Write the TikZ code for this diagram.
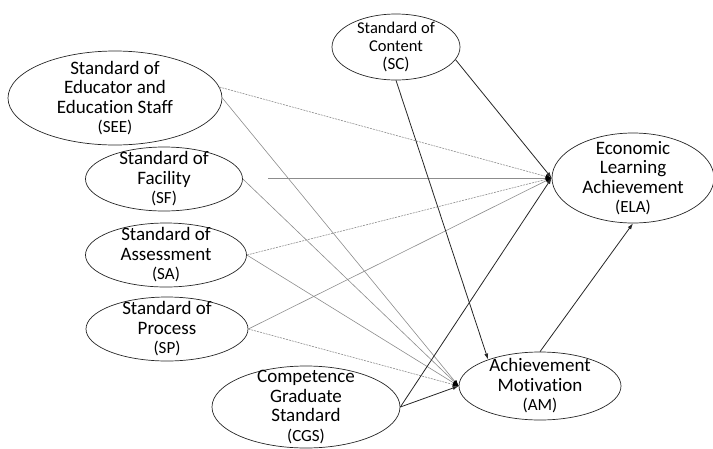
\documentclass[tikz,border=0pt]{standalone}
\usepackage{fontspec}
\setmainfont{Carlito}[Ligatures=NoCommon]
\usetikzlibrary{shapes.geometric,arrows.meta}
\begin{document}
\begin{tikzpicture}[x=1pt,y=-1pt,
 ell/.style={draw=black!85, ellipse, line width=0.7pt, inner sep=0pt},
 lbl/.style={align=center, font=\fontsize{19}{19.5}\selectfont, inner sep=0pt},
 slbl/.style={align=center, font=\fontsize{16.5}{18}\selectfont, inner sep=0pt},
 blk/.style={line width=0.8pt, draw=black!85, -{Latex[length=6pt,width=4pt]}},
 gry/.style={line width=0.6pt, draw=black!45, -{Latex[black,length=6pt,width=4pt]}},
 dsh/.style={gry, dash pattern=on 2pt off 1pt},
]
\newcommand{\abbr}[1]{{\fontsize{17}{19.5}\selectfont #1}}
\useasboundingbox (0,0) rectangle (713,448);
% ellipses
\node[ell, minimum width=214, minimum height=94] (SEE) at (115,98) {};
\node[ell, minimum width=128, minimum height=66] (SC) at (396,47) {};
\node[ell, minimum width=162, minimum height=90] (ELA) at (633,178) {};
\node[ell, minimum width=157, minimum height=64] (SF) at (164,179) {};
\node[ell, minimum width=161, minimum height=64] (SA) at (166,255) {};
\node[ell, minimum width=162, minimum height=64] (SP) at (167,329) {};
\node[ell, minimum width=188, minimum height=82] (CGS) at (306,407) {};
\node[ell, minimum width=162, minimum height=68] (AM) at (540,386) {};
% labels
\node[lbl] at (SEE) {Standard of\\Educator and\\Education Staff\\\abbr{(SEE)}};
\node[slbl] at (SC) {Standard of\\Content\\\abbr{(SC)}};
\node[lbl] at (ELA) {Economic\\Learning\\Achievement\\\abbr{(ELA)}};
\node[lbl] at (SF) {Standard of\\Facility\\\abbr{(SF)}};
\node[lbl] at (SA) {Standard of\\Assessment\\\abbr{(SA)}};
\node[lbl] at (SP) {Standard of\\Process\\\abbr{(SP)}};
\node[lbl] at (CGS) {Competence\\Graduate\\Standard\\\abbr{(CGS)}};
\node[lbl] at (AM) {Achievement\\Motivation\\\abbr{(AM)}};
% connectors
\coordinate (sfs) at (268,178);
\draw[dsh] (SEE.6) -- (ELA.west);
\draw[gry] (SEE.east) -- (AM.west);
\draw[gry] (sfs) -- (ELA.west);
\draw[gry] (SF.east) -- (AM.west);
\draw[dsh] (SA.east) -- (ELA.west);
\draw[gry] (SA.east) -- (AM.west);
\draw[gry] (SP.east) -- (ELA.west);
\draw[dsh] (SP.east) -- (AM.west);
\draw[blk] (CGS.east) -- (ELA.west);
\draw[blk] (CGS.east) -- (AM.west);
\draw[blk] (SC.-12) -- (ELA.west);
\draw[blk] (SC.south) -- (AM.153);
\draw[blk] (AM.north) -- (ELA.south);
\end{tikzpicture}
\end{document}
